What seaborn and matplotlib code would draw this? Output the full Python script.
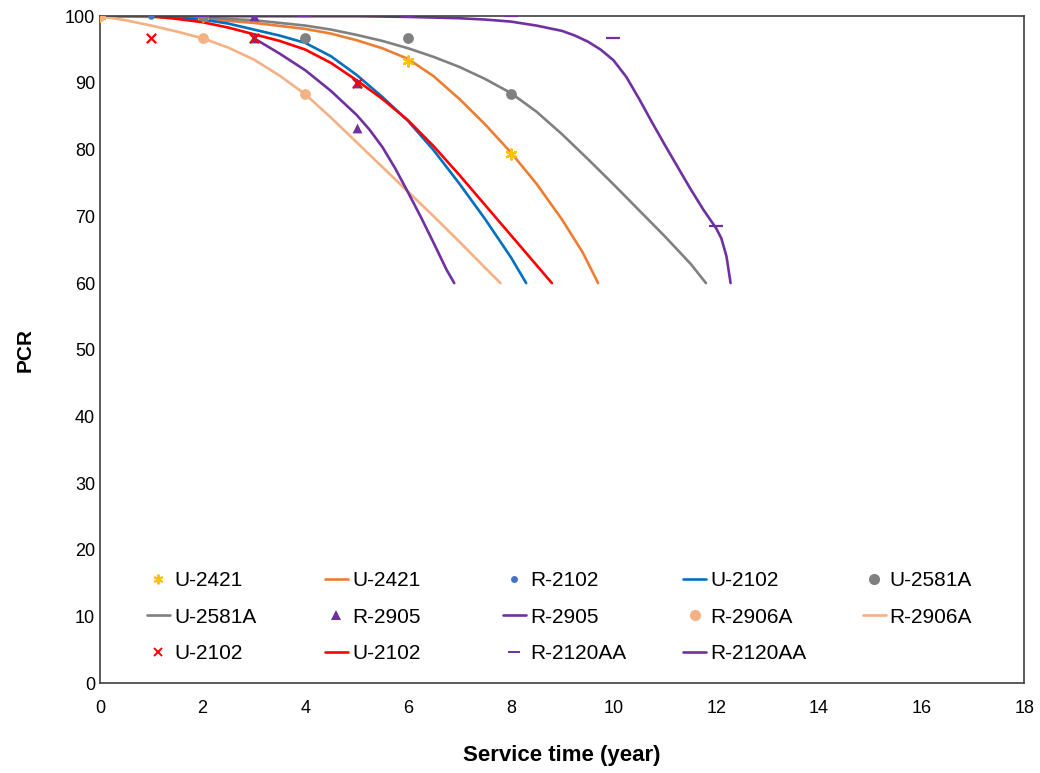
import matplotlib.pyplot as plt
from matplotlib.lines import Line2D
import seaborn as sns

# Observed points (markers)
u2421_pts_x = [0, 2, 6, 8]
u2421_pts_y = [100, 100, 93.3, 79.3]
r2102_pts_x = [1]
r2102_pts_y = [100]
u2581a_pts_x = [2, 4, 6, 8]
u2581a_pts_y = [100, 96.7, 96.7, 88.3]
r2905_pts_x = [3, 3, 5, 5]
r2905_pts_y = [100, 96.7, 90, 83.3]
r2906a_pts_x = [0, 2, 4]
r2906a_pts_y = [100, 96.7, 88.3]
u2102_pts_x = [1, 3, 5]
u2102_pts_y = [96.7, 96.7, 90]
r2120aa_pts_x = [2, 4, 6, 8, 10, 12]
r2120aa_pts_y = [100, 100, 100, 100, 96.7, 68.6]

# Fitted curves
u2421_fit_x = [0, 1, 2, 3, 4, 4.5, 5, 5.5, 6, 6.5, 7, 7.5, 8, 8.5, 9, 9.4, 9.7]
u2421_fit_y = [100, 99.9, 99.6, 99.0, 98.1, 97.4, 96.4, 95.2, 93.6, 91.0, 87.6, 83.8, 79.6,
               74.9, 69.5, 64.6, 60]
u2102b_fit_x = [1, 1.5, 2, 2.5, 3, 3.5, 4, 4.5, 5, 5.5, 6, 6.5, 7, 7.5, 8, 8.3]
u2102b_fit_y = [100, 99.8, 99.5, 98.9, 98.0, 97.1, 96.0, 94.0, 91.2, 87.9, 84.3, 79.9, 74.9,
                69.6, 63.9, 60]
u2581a_fit_x = [0, 1, 2, 3, 4, 4.5, 5, 5.5, 6, 6.5, 7, 7.5, 8, 8.5, 9, 9.5, 10, 10.5, 11,
                11.5, 11.8]
u2581a_fit_y = [100, 99.95, 99.8, 99.4, 98.6, 98.0, 97.2, 96.3, 95.2, 93.9, 92.4, 90.6, 88.5,
                85.7, 82.3, 78.6, 74.8, 70.9, 67.0, 62.9, 60]
r2905_fit_x = [3, 3.5, 4, 4.5, 5, 5.25, 5.5, 5.75, 6, 6.25, 6.5, 6.75, 6.9]
r2905_fit_y = [96.7, 94.4, 91.9, 88.8, 85.2, 83.0, 80.4, 77.2, 73.6, 69.9, 66.0, 62.0, 60]
r2906a_fit_x = [0, 0.5, 1, 1.5, 2, 2.5, 3, 3.5, 4, 4.5, 5, 5.5, 6, 6.5, 7, 7.5, 7.8]
r2906a_fit_y = [100, 99.4, 98.6, 97.7, 96.7, 95.3, 93.5, 91.1, 88.3, 84.8, 81.1, 77.4, 73.7,
                70.0, 66.2, 62.3, 60]
u2102r_fit_x = [1, 1.5, 2, 2.5, 3, 3.5, 4, 4.5, 5, 5.5, 6, 6.5, 7, 7.5, 8, 8.5, 8.8]
u2102r_fit_y = [100, 99.6, 99.1, 98.3, 97.3, 96.3, 95.0, 93.0, 90.4, 87.6, 84.4, 80.5, 76.2,
                71.7, 67.2, 62.7, 60]
r2120aa_fit_x = [2, 3, 4, 5, 6, 7, 7.5, 8, 8.5, 9, 9.25, 9.5, 9.75, 10, 10.25, 10.5, 10.75,
                 11, 11.25, 11.5, 11.75, 12, 12.1, 12.2, 12.28]
r2120aa_fit_y = [100, 100, 100, 100, 99.9, 99.7, 99.5, 99.2, 98.6, 97.8, 97.1, 96.2, 95.0,
                 93.4, 90.9, 87.6, 84.1, 80.7, 77.4, 74.1, 71.0, 68.2, 66.7, 64.0, 60]

sns.set_style('white')
plt.rcParams['font.family'] = ['Liberation Sans', 'DejaVu Sans']

fig, ax = plt.subplots(figsize=(10.4, 7.73), dpi=100)
fig.subplots_adjust(left=0.096, right=0.985, top=0.979, bottom=0.116)

lw = 1.9
curves = [
    (u2421_fit_x, u2421_fit_y, '#ED7D31'),
    (u2581a_fit_x, u2581a_fit_y, '#808080'),
    (r2906a_fit_x, r2906a_fit_y, '#F4B183'),
    (u2102b_fit_x, u2102b_fit_y, '#0070C0'),
    (u2102r_fit_x, u2102r_fit_y, '#FF0000'),
    (r2905_fit_x, r2905_fit_y, '#7030A0'),
    (r2120aa_fit_x, r2120aa_fit_y, '#7030A0'),
]
for xs, ys, c in curves:
    sns.lineplot(x=xs, y=ys, color=c, linewidth=lw, ax=ax, sort=False, zorder=2)

asterisk = (6, 2, 0)
points = [
    (u2421_pts_x, u2421_pts_y, '#FFC000', asterisk, 55),
    (r2102_pts_x, r2102_pts_y, '#4472C4', 'o', 22),
    (u2581a_pts_x, u2581a_pts_y, '#808080', 'o', 60),
    (r2905_pts_x, r2905_pts_y, '#7030A0', '^', 50),
    (r2906a_pts_x, r2906a_pts_y, '#F4B183', 'o', 60),
    (u2102_pts_x, u2102_pts_y, '#FF0000', 'x', 45),
    (r2120aa_pts_x, r2120aa_pts_y, '#7030A0', '_', 90),
]
for xs, ys, c, m, s in points:
    if m in ('x', '_') or m == asterisk:
        sns.scatterplot(x=xs, y=ys, color=c, marker=m, s=s, linewidth=1.6, ax=ax, zorder=3)
    else:
        sns.scatterplot(x=xs, y=ys, color=c, marker=m, s=s, edgecolor=c, linewidth=0, ax=ax, zorder=3)

ax.set_xlim(0, 18)
ax.set_ylim(0, 100)
ax.set_xticks(range(0, 19, 2))
ax.set_yticks(range(0, 101, 10))
ax.tick_params(axis='both', direction='in', length=5, labelsize=13, colors='black')
ax.tick_params(axis='x', pad=12)
for sp in ax.spines.values():
    sp.set_color('#404040')
    sp.set_linewidth(1.2)
ax.set_xlabel('Service time (year)', fontsize=16, fontweight='bold', labelpad=20, color='black')
ax.set_ylabel('PCR', fontsize=15, fontweight='bold', labelpad=22, color='black')


def mk(c, m, ms):
    return Line2D([], [], color=c, marker=m, markersize=ms, linestyle='none',
                  markeredgewidth=1.4 if m in ('x', '_') or m == asterisk else 0)


def ln(c):
    return Line2D([], [], color=c, linewidth=lw)


# legend columns as laid out in the reference (row-wise reading order)
legend_cols = [
    [(mk('#FFC000', asterisk, 7), 'U-2421'), (ln('#808080'), 'U-2581A'),
     (mk('#FF0000', 'x', 6), 'U-2102')],
    [(ln('#ED7D31'), 'U-2421'), (mk('#7030A0', '^', 7), 'R-2905'),
     (ln('#FF0000'), 'U-2102')],
    [(mk('#4472C4', 'o', 5), 'R-2102'), (ln('#7030A0'), 'R-2905'),
     (mk('#7030A0', '_', 8), 'R-2120AA')],
    [(ln('#0070C0'), 'U-2102'), (mk('#F4B183', 'o', 8), 'R-2906A'),
     (ln('#7030A0'), 'R-2120AA')],
    [(mk('#808080', 'o', 8), 'U-2581A'), (ln('#F4B183'), 'R-2906A')],
]
col_x = [0.051, 0.2435, 0.436, 0.631, 0.825]
legs = []
for cx, entries in zip(col_x, legend_cols):
    leg = ax.legend([e[0] for e in entries], [e[1] for e in entries],
                    loc='upper left', bbox_to_anchor=(cx, 0.168), frameon=False,
                    fontsize=15, handlelength=1.1, handletextpad=0.2,
                    labelspacing=0.84, borderpad=0, borderaxespad=0, labelcolor='black')
    legs.append(leg)
ax.legend_ = None
for leg in legs:
    ax.add_artist(leg)

plt.savefig('out.png', dpi=100)
